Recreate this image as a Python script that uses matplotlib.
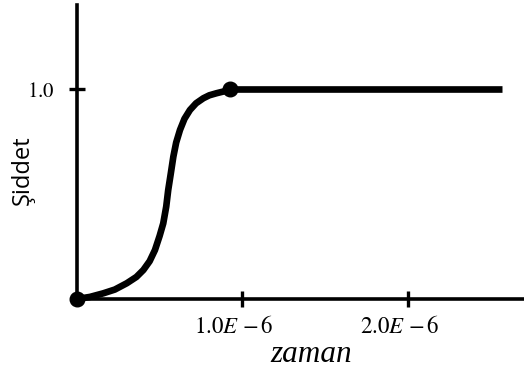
import numpy as np
import matplotlib
matplotlib.use("Agg")
import matplotlib.pyplot as plt
from matplotlib.transforms import ScaledTranslation

plt.rcParams['mathtext.fontset'] = 'stix'

# data (time in microseconds, intensity)
rise_t_us = [0, 0.08, 0.16, 0.23, 0.302, 0.36, 0.402, 0.44, 0.472, 0.50, 0.522,
             0.54, 0.552, 0.568, 0.583, 0.60, 0.623, 0.65, 0.683, 0.72, 0.764,
             0.80, 0.844, 0.885, 0.925]
rise_val = [0, 0.01, 0.027, 0.045, 0.075, 0.105, 0.138, 0.18, 0.233, 0.30, 0.360,
            0.44, 0.519, 0.60, 0.678, 0.745, 0.805, 0.858, 0.900, 0.932, 0.956,
            0.970, 0.980, 0.988, 1.0]
flat_t_us = [0.925, 2.565]
flat_val = [1.0, 1.0]
dot_t_us = [0, 0.925]
dot_val = [0, 1.0]
xtick_vals_us = [1.0, 2.0]
xtick_labels = [r'$1.0E\ {-}\,6$', r'$2.0E\ {-}\,6$']
ytick_vals = [1.0]
ytick_labels = [r'$1.0$']

US = 1e-6

fig = plt.figure(figsize=(5.24, 3.74), dpi=100)
ax = fig.add_axes([76.7/524, 75/374, 1 - 76.7/524, 294/374])

ax.plot(np.array(rise_t_us) * US, rise_val, color='black', lw=4.8,
        solid_capstyle='round', solid_joinstyle='round', clip_on=False, zorder=3)
ax.plot(np.array(flat_t_us) * US, flat_val, color='black', lw=4.8,
        solid_capstyle='butt', clip_on=False, zorder=3)
ax.plot(np.array(dot_t_us) * US, dot_val, 'o', color='black', ms=10.5,
        clip_on=False, zorder=4)

ax.set_xlim(0, 2.698 * US)
ax.set_ylim(0, 1.4)

for s in ['top', 'right']:
    ax.spines[s].set_visible(False)
for s in ['left', 'bottom']:
    ax.spines[s].set_linewidth(2.6)
    ax.spines[s].set_zorder(2)

ax.set_xticks(np.array(xtick_vals_us) * US)
ax.set_xticklabels(xtick_labels, fontsize=16.5)
ax.set_yticks(ytick_vals)
ax.set_yticklabels(ytick_labels, fontsize=15)
ax.tick_params(axis='both', direction='inout', length=12, width=2.4, color='black')
ax.tick_params(axis='x', pad=5.5)
ax.tick_params(axis='y', pad=10)

shift = ScaledTranslation(-9/100, 0, fig.dpi_scale_trans)
for lab in ax.get_xticklabels():
    lab.set_transform(lab.get_transform() + shift)

fig.text(311/524, 1 - 355/374, 'zaman', fontsize=22.5, style='italic',
         family='Liberation Serif', ha='center', va='center')
fig.text(23/524, 1 - 170/374, 'Şiddet', fontsize=17, family='Open Sans',
         rotation=90, ha='center', va='center')

fig.savefig('out.png', dpi=100)
